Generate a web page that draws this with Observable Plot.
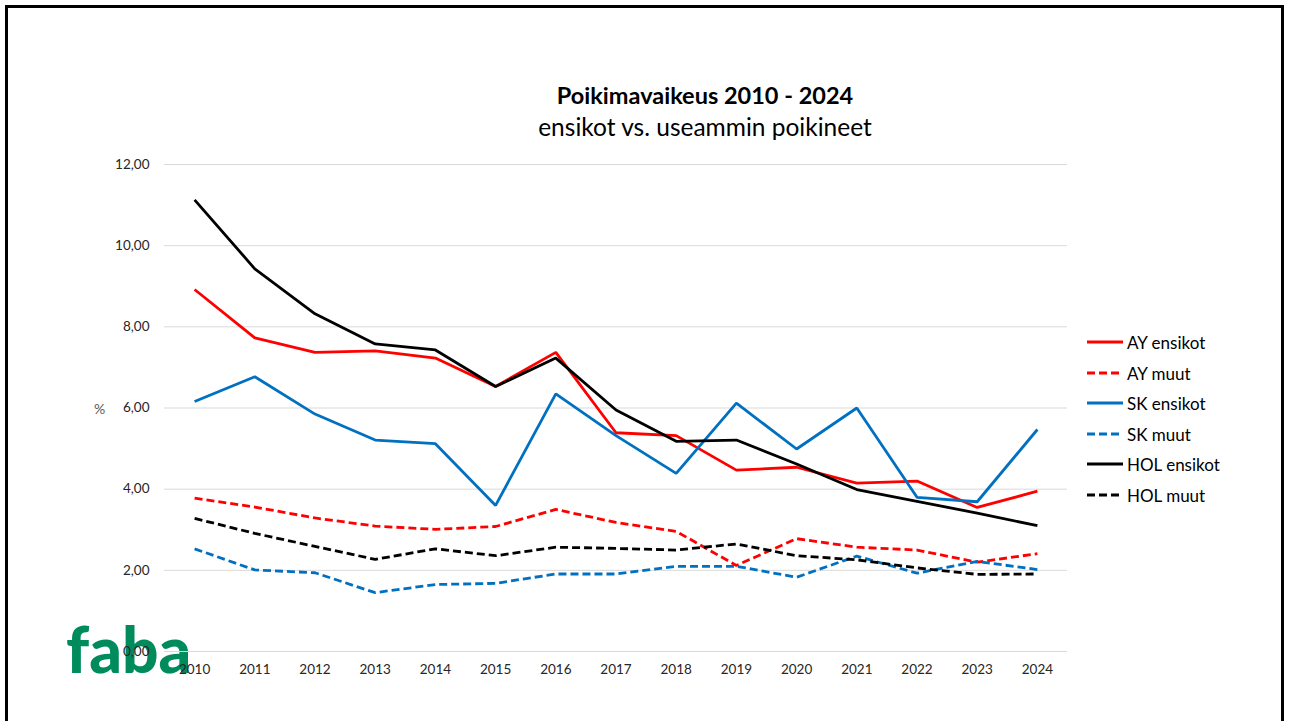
<!DOCTYPE html>
<html>
<head>
<meta charset="utf-8">
<script src="https://cdn.jsdelivr.net/npm/d3@7"></script>
<script src="https://cdn.jsdelivr.net/npm/@observablehq/plot@0.6"></script>
<style>
  html, body { margin: 0; padding: 0; background: #fff; overflow: hidden; }
  #wrap { position: relative; width: 1289px; height: 721px; font-family: Lato, "Open Sans", sans-serif; }
  #frame { position: absolute; left: 5px; top: 5px; width: 1273px; height: 730px; border: 3px solid #000; box-sizing: content-box; }
  #chart { position: absolute; left: 0; top: 0; }
  #title { position: absolute; left: 0; width: 1410px; top: 80px; text-align: center; font-weight: bold; font-size: 23.5px; line-height: 30px; color: #000; }
  #subtitle { position: absolute; left: 0; width: 1410px; top: 112px; text-align: center; font-size: 24.5px; line-height: 30px; color: #000; }
  #ylabel { position: absolute; left: 94px; top: 400px; font-size: 14px; color: #595959; }
  #logo { position: absolute; left: 66px; top: 617px; font-family: Lato, sans-serif; font-weight: 900; font-size: 64px; color: #008b5c; letter-spacing: 0px; line-height: 1; }
  .leg { position: absolute; left: 1087px; height: 20px; display: flex; align-items: center; font-size: 17px; color: #000; }
  .leg svg { margin-right: 4px; }
</style>
</head>
<body>
<div id="wrap">
  <div id="logo">faba</div>
  <div id="chart"></div>
  <div id="frame"></div>
  <div id="title">Poikimavaikeus 2010 - 2024</div>
  <div id="subtitle">ensikot vs. useammin poikineet</div>
  <div id="ylabel">%</div>
  <div id="legend"></div>
</div>
<script>
const years = [2010, 2011, 2012, 2013, 2014, 2015, 2016, 2017, 2018, 2019, 2020, 2021, 2022, 2023, 2024];
const ayEnsikot  = [8.92, 7.73, 7.37, 7.41, 7.23, 6.53, 7.37, 5.39, 5.32, 4.47, 4.54, 4.15, 4.20, 3.55, 3.95];
const ayMuut     = [3.78, 3.56, 3.29, 3.09, 3.01, 3.08, 3.50, 3.18, 2.96, 2.12, 2.78, 2.57, 2.50, 2.20, 2.41];
const skEnsikot  = [6.16, 6.77, 5.85, 5.21, 5.12, 3.60, 6.35, 5.32, 4.39, 6.12, 4.99, 6.00, 3.80, 3.69, 5.47];
const skMuut     = [2.53, 2.01, 1.94, 1.45, 1.65, 1.68, 1.91, 1.91, 2.10, 2.10, 1.83, 2.35, 1.93, 2.22, 2.02];
const holEnsikot = [11.13, 9.43, 8.32, 7.58, 7.43, 6.53, 7.23, 5.95, 5.18, 5.21, 4.62, 3.99, 3.70, 3.41, 3.10];
const holMuut    = [3.28, 2.91, 2.59, 2.27, 2.53, 2.36, 2.57, 2.54, 2.50, 2.65, 2.36, 2.26, 2.06, 1.90, 1.91];
const yTicks = [0, 2, 4, 6, 8, 10, 12];

const seriesNames = ["AY ensikot", "AY muut", "SK ensikot", "SK muut", "HOL ensikot", "HOL muut"];
const seriesValues = [ayEnsikot, ayMuut, skEnsikot, skMuut, holEnsikot, holMuut];
const seriesColors = ["#ff0000", "#ff0000", "#0070c0", "#0070c0", "#000000", "#000000"];
const seriesDashed = [false, true, false, true, false, true];

const marks = [
  Plot.ruleY(yTicks, {stroke: "#d9d9d9", strokeWidth: 1})
];
seriesNames.forEach((name, i) => {
  const rows = years.map((yr, j) => ({year: yr, value: seriesValues[i][j], series: name}));
  marks.push(Plot.line(rows, {
    x: "year", y: "value",
    stroke: seriesColors[i], strokeWidth: 2.8,
    strokeDasharray: seriesDashed[i] ? "8,4" : null,
    strokeLinejoin: "miter", strokeLinecap: "butt"
  }));
});
marks.push(Plot.axisY({ticks: yTicks, label: null, tickSize: 0, tickPadding: 15, tickFormat: d => d.toFixed(2).replace(".", ","), fontSize: 13.5, color: "#262626", fontFamily: "Lato, sans-serif"}));
marks.push(Plot.axisX({ticks: years, label: null, tickSize: 0, tickPadding: 13, tickFormat: d => String(d), fontSize: 13.5, color: "#262626", fontFamily: "Lato, sans-serif"}));

const chart = Plot.plot({
  width: 1289, height: 721,
  marginLeft: 164, marginRight: 222, marginTop: 164, marginBottom: 70,
  x: {domain: [2009.5, 2024.5], axis: null, label: null},
  y: {domain: [0, 12], axis: null, label: null},
  style: {background: "transparent", overflow: "visible"},
  marks
});
document.getElementById("chart").appendChild(chart);

const legend = document.getElementById("legend");
const legTops = [332, 363, 393, 424, 454, 485];
seriesNames.forEach((name, i) => {
  const d = document.createElement("div");
  d.className = "leg";
  d.style.top = legTops[i] + "px";
  d.innerHTML = `<svg width="36" height="6"><line x1="0" y1="3" x2="36" y2="3" stroke="${seriesColors[i]}" stroke-width="2.8" ${seriesDashed[i] ? 'stroke-dasharray="8,4"' : ''}/></svg><span>${name}</span>`;
  legend.appendChild(d);
});
</script>
</body>
</html>
